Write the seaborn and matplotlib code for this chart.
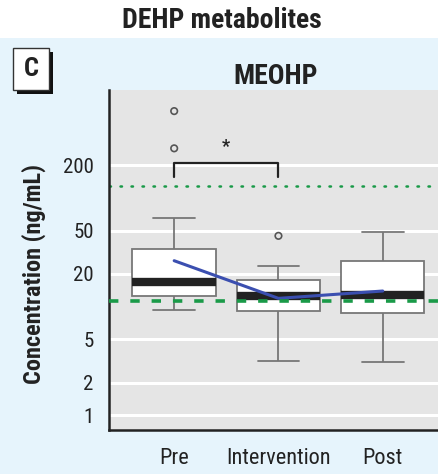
import matplotlib
matplotlib.use("Agg")
import numpy as np
import pandas as pd
import matplotlib.pyplot as plt
import seaborn as sns
from matplotlib.patches import Rectangle
from matplotlib import font_manager

# ---------------- data ----------------
groups = ["Pre", "Intervention", "Post"]
whisker_low = [9.3, 3.15, 3.1]
q1 = [12.5, 9.15, 8.7]
median = [16.8, 12.5, 12.7]
q3 = [33.8, 17.5, 26.4]
whisker_high = [65.5, 23.6, 48.4]
outlier_group = ["Pre", "Pre", "Intervention"]
outlier_value = [627, 285, 44.7]
geo_mean = [26.4, 11.9, 13.9]
ref_dashed = 11.3
ref_dotted = 128
yticks = [1, 2, 5, 20, 50, 200]
ytick_labels = ["1", "2", "5", "20", "50", "200"]
bracket_groups = ["Pre", "Intervention"]
bracket_y = 207
bracket_tip = 156
star_y = 292
title = "DEHP metabolites"
subtitle = "MEOHP"
panel = "C"
ylabel = "Concentration (ng/mL)"

# ---------------- fonts ----------------
names = {f.name for f in font_manager.fontManager.ttflist}
fam = [n for n in ["Liberation Sans Narrow", "Roboto Condensed", "DejaVu Sans"] if n in names]

sns.set_theme(style="darkgrid")
plt.rcParams["font.family"] = fam + ["DejaVu Sans"]

BG = "#e6f4fc"
GRAY = "#e5e5e5"

fig = plt.figure(figsize=(4.38, 4.74), dpi=100, facecolor=BG)
fig.patches.append(Rectangle((0, 1 - 38 / 474), 1, 38 / 474, transform=fig.transFigure,
                             facecolor="white", edgecolor="none", zorder=0))
ax = fig.add_axes([109 / 438, 1 - 430 / 474, 1 - 109 / 438, 340 / 474])
ax.set_facecolor(GRAY)

rows = []
for g, a, b, c, d, e in zip(groups, whisker_low, q1, median, q3, whisker_high):
    for v in (a, b, c, d, e):
        rows.append({"group": g, "value": v})
df = pd.DataFrame(rows)

sns.boxplot(data=df, x="group", y="value", order=groups, whis=(0, 100), width=0.8,
            color="white", linecolor="#777777", linewidth=1.3, showfliers=False,
            medianprops=dict(color="#222222", linewidth=6, solid_capstyle="butt"),
            capwidths=0.4, ax=ax, zorder=3)
ax.set_yscale("log")

xpos = [groups.index(g) for g in outlier_group]
sns.scatterplot(x=xpos, y=outlier_value, marker="o", s=22, facecolor="none",
                edgecolor="#555555", linewidth=1.2, ax=ax, zorder=4)

sns.lineplot(x=list(range(len(groups))), y=geo_mean, color="#3b4fb0", linewidth=2.2,
             ax=ax, zorder=5)

ax.axhline(ref_dashed, color="#1a9a48", linewidth=2.6, dashes=(2.6, 3.3), zorder=6)
ax.axhline(ref_dotted, color="#1a9a48", linewidth=1.8, dashes=(0.6, 3.8),
           dash_capstyle="round", zorder=2)

bx = [groups.index(g) for g in bracket_groups]
ax.plot([bx[0], bx[0], bx[1], bx[1]], [bracket_tip, bracket_y, bracket_y, bracket_tip],
        color="#222222", linewidth=1.6, zorder=5)
ax.text(np.mean(bx), star_y, "*", ha="center", va="center", fontsize=13,
        fontweight="bold", color="#222222")

ax.set_xlim(-0.625, 2.53)
ax.set_ylim(0.733, 980)
ax.set_yticks(yticks)
ax.set_yticklabels(ytick_labels)
ax.yaxis.set_minor_locator(matplotlib.ticker.NullLocator())
ax.set_xticks(range(len(groups)))
ax.set_xticklabels(groups)
ax.grid(axis="y", color="white", linewidth=2.2)
ax.grid(axis="x", visible=False)
ax.tick_params(axis="y", length=0, pad=11, labelsize=15, labelcolor="#222222")
ax.tick_params(axis="x", length=0, pad=13, labelsize=16, labelcolor="#222222")
ax.set_xlabel("")
ax.set_ylabel(ylabel, fontsize=17.5, fontweight="bold", color="#222222")
ax.yaxis.set_label_coords(-0.19, 0.46)
for s in ["top", "right"]:
    ax.spines[s].set_visible(False)
for s in ["left", "bottom"]:
    ax.spines[s].set_visible(True)
    ax.spines[s].set_color("#222222")
    ax.spines[s].set_linewidth(1.8)

fig.text(222 / 438, 1 - 20 / 474, title, ha="center", va="center", fontsize=20,
         fontweight="bold", color="#222222")
fig.text(276 / 438, 1 - 76 / 474, subtitle, ha="center", va="center", fontsize=20,
         fontweight="bold", color="#222222")

# panel label box with shadow
fig.patches.append(Rectangle((17 / 438, 1 - 94 / 474), 36 / 438, 42 / 474, transform=fig.transFigure,
                             facecolor="#111111", edgecolor="none", zorder=1))
fig.patches.append(Rectangle((13 / 438, 1 - 90 / 474), 36 / 438, 42 / 474, transform=fig.transFigure,
                             facecolor="white", edgecolor="#333333", linewidth=1.0, zorder=2))
fig.text(31 / 438, 1 - 69 / 474, panel, ha="center", va="center", fontsize=19,
         fontweight="bold", color="#222222", zorder=3)

fig.savefig("out.png", dpi=100, facecolor=BG)
